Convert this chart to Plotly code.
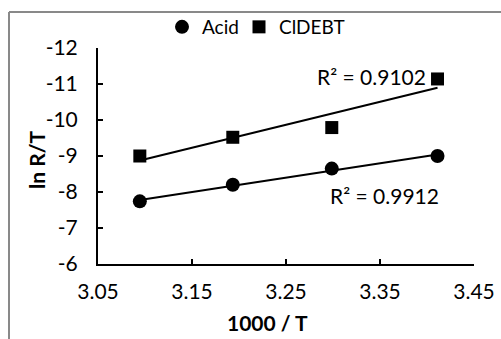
import numpy as np
import plotly.graph_objects as go

# Data
inv_T = [3.0945, 3.1934, 3.2987, 3.4112]          # 1000 / T
acid = [-7.74, -8.20, -8.65, -9.00]               # ln R/T, Acid
cldebt = [-9.00, -9.52, -9.79, -11.14]            # ln R/T, ClDEBT
series_names = ["Acid", "ClDEBT"]
r2_labels = ["R² = 0.9912", "R² = 0.9102"]
x_ticks = [3.05, 3.15, 3.25, 3.35, 3.45]
y_ticks = [-12, -11, -10, -9, -8, -7, -6]

FONT = "Lato"
FS = 21
W, H = 501, 339
ml, mr, mt, mb = 98, 27, 48, 75

fig = go.Figure()

# trendlines
for ys in (acid, cldebt):
    k, b = np.polyfit(inv_T, ys, 1)
    xs = [min(inv_T), max(inv_T)]
    fig.add_trace(go.Scatter(x=xs, y=[k * v + b for v in xs], mode="lines",
                             line=dict(color="black", width=2),
                             showlegend=False, hoverinfo="skip"))

fig.add_trace(go.Scatter(x=inv_T, y=acid, mode="markers", name=series_names[0],
                         legend="legend",
                         marker=dict(symbol="circle", size=14, color="black")))
fig.add_trace(go.Scatter(x=inv_T, y=cldebt, mode="markers", name=series_names[1],
                         legend="legend2",
                         marker=dict(symbol="square", size=13, color="black")))

axis_common = dict(showline=True, linecolor="black", linewidth=2,
                   ticks="inside", ticklen=5, tickwidth=2, tickcolor="black",
                   showgrid=False, zeroline=False, automargin=False,
                   tickfont=dict(family=FONT, size=FS, color="black"))

fig.update_xaxes(range=[3.05, 3.45], tickvals=x_ticks,
                 ticktext=[f"{v:.2f}" for v in x_ticks], ticklabelstandoff=8,
                 **axis_common)
fig.update_yaxes(range=[-6, -12], tickvals=y_ticks,
                 ticktext=[str(v) for v in y_ticks], ticklabelstandoff=14,
                 **axis_common)

fig.add_annotation(x=3.341, y=-11.22, text=r2_labels[1], showarrow=False,
                   xanchor="center", yanchor="middle",
                   font=dict(family=FONT, size=FS, color="black"))
fig.add_annotation(x=3.355, y=-7.89, text=r2_labels[0], showarrow=False,
                   xanchor="center", yanchor="middle",
                   font=dict(family=FONT, size=FS, color="black"))

fig.add_annotation(xref="paper", yref="paper", x=(36 - ml) / 376, y=(H - mb - 160) / 216,
                   xanchor="center", yanchor="middle",
                   text="<b>ln R/T</b>", textangle=-90, showarrow=False,
                   font=dict(family=FONT, size=FS, color="black"))
fig.add_annotation(xref="paper", yref="paper", x=(267 - ml) / 376, y=(H - mb - 322) / 216,
                   xanchor="center", yanchor="middle",
                   text="<b>1000 / T</b>", showarrow=False,
                   font=dict(family=FONT, size=FS, color="black"))

# outer chart frame (top and left edges visible)
x0 = (9 - ml) / 376
y1 = (H - mb - 12) / 216
fig.add_shape(type="line", xref="paper", yref="paper", x0=x0, x1=1.3, y0=y1, y1=y1,
              line=dict(color="#898989", width=2))
fig.add_shape(type="line", xref="paper", yref="paper", x0=x0, x1=x0, y0=y1, y1=-0.5,
              line=dict(color="#898989", width=2))

legend_common = dict(orientation="h", xref="container", yref="container",
                     y=1 - 27 / H, xanchor="left", yanchor="middle",
                     font=dict(family=FONT, size=19, color="black"),
                     itemwidth=30, bgcolor="rgba(0,0,0,0)")

fig.update_layout(
    width=W, height=H,
    margin=dict(l=ml, r=mr, t=mt, b=mb, autoexpand=False),
    paper_bgcolor="white", plot_bgcolor="white",
    showlegend=True,
    legend=dict(x=162 / W, **legend_common),
    legend2=dict(x=239 / W, **legend_common),
)

fig.write_html("out.html", config={"displayModeBar": False},
               post_script="document.body.style.margin='0';")
